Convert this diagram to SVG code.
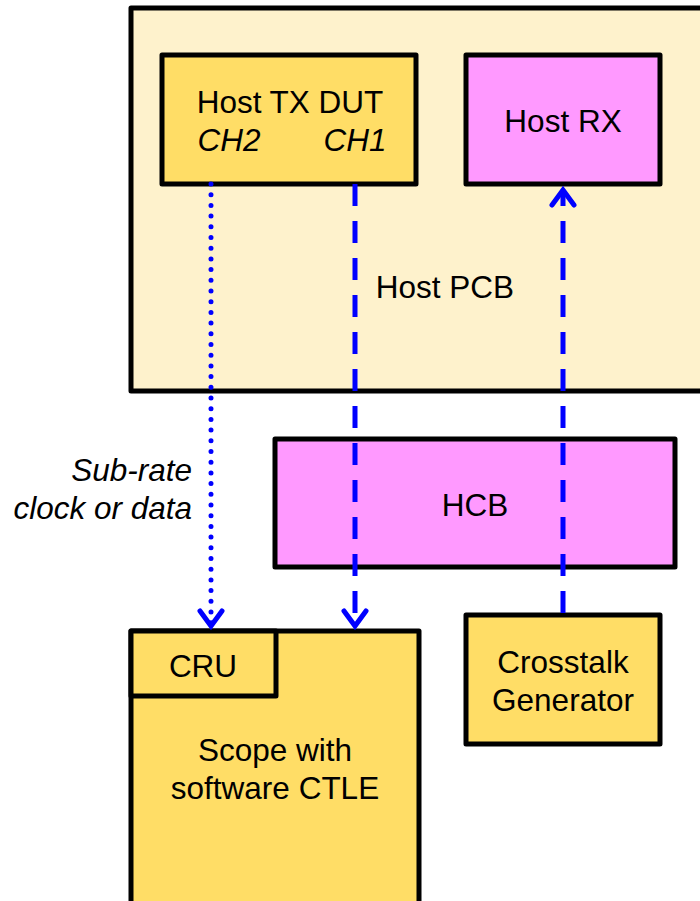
<svg xmlns="http://www.w3.org/2000/svg" width="700" height="901" viewBox="0 0 700 901">
<style>
.box{stroke:#000;stroke-width:5;stroke-linejoin:round}
.y{fill:#FFDD66}
.p{fill:#FF99FF}
.c{fill:#FEF2CC}
text{font-family:"Liberation Sans",Arial,sans-serif;font-size:31.5px;fill:#000}
.m{text-anchor:middle}
.i{font-style:italic}
.dash{stroke:#0000FF;stroke-width:5;fill:none;stroke-dasharray:22 15}
.dot{stroke:#0000FF;stroke-width:5;fill:none;stroke-linecap:round;stroke-dasharray:0 10.7}
.ah{stroke:#0000FF;stroke-width:5;fill:none;stroke-linecap:round;stroke-linejoin:miter}
</style>
<g id="host-pcb"><rect class="box c" x="131" y="8" width="580" height="383"/><text class="m" x="445" y="298">Host PCB</text></g>
<g id="host-tx"><rect class="box y" x="162" y="55" width="254" height="129"/><text class="m" x="290" y="113">Host TX DUT</text><text class="i m" x="229" y="151">CH2</text><text class="i m" x="355" y="151">CH1</text></g>
<g id="host-rx"><rect class="box p" x="466" y="55" width="194" height="129"/><text class="m" x="563" y="132">Host RX</text></g>
<g id="hcb"><rect class="box p" x="275" y="439" width="400" height="128"/><text class="m" x="475" y="516">HCB</text></g>
<g id="crosstalk"><rect class="box y" x="466" y="615" width="194" height="129"/><text class="m" x="563" y="673">Crosstalk</text><text class="m" x="563" y="711">Generator</text></g>
<g id="scope"><rect class="box y" x="131" y="631" width="288" height="290"/><text class="m" x="275" y="761">Scope with</text><text class="m" x="275" y="799">software CTLE</text></g>
<g id="cru"><rect class="box y" x="131" y="631" width="145" height="65"/><text class="m" x="203" y="677">CRU</text></g>
<g id="label"><text class="i" text-anchor="end" x="192" y="481">Sub-rate</text><text class="i" text-anchor="end" x="192" y="519">clock or data</text></g>
<g id="connectors">
<line class="dot" x1="211" y1="184" x2="211" y2="626"/>
<polyline class="ah" points="200,611 211,626 222,611"/>
<line class="dash" x1="355" y1="184" x2="355" y2="624"/>
<polyline class="ah" points="344,611 355,626 366,611"/>
<line class="dash" x1="563" y1="613" x2="563" y2="190"/>
<polyline class="ah" points="552,205 563,190 574,205"/>
</g>
</svg>
